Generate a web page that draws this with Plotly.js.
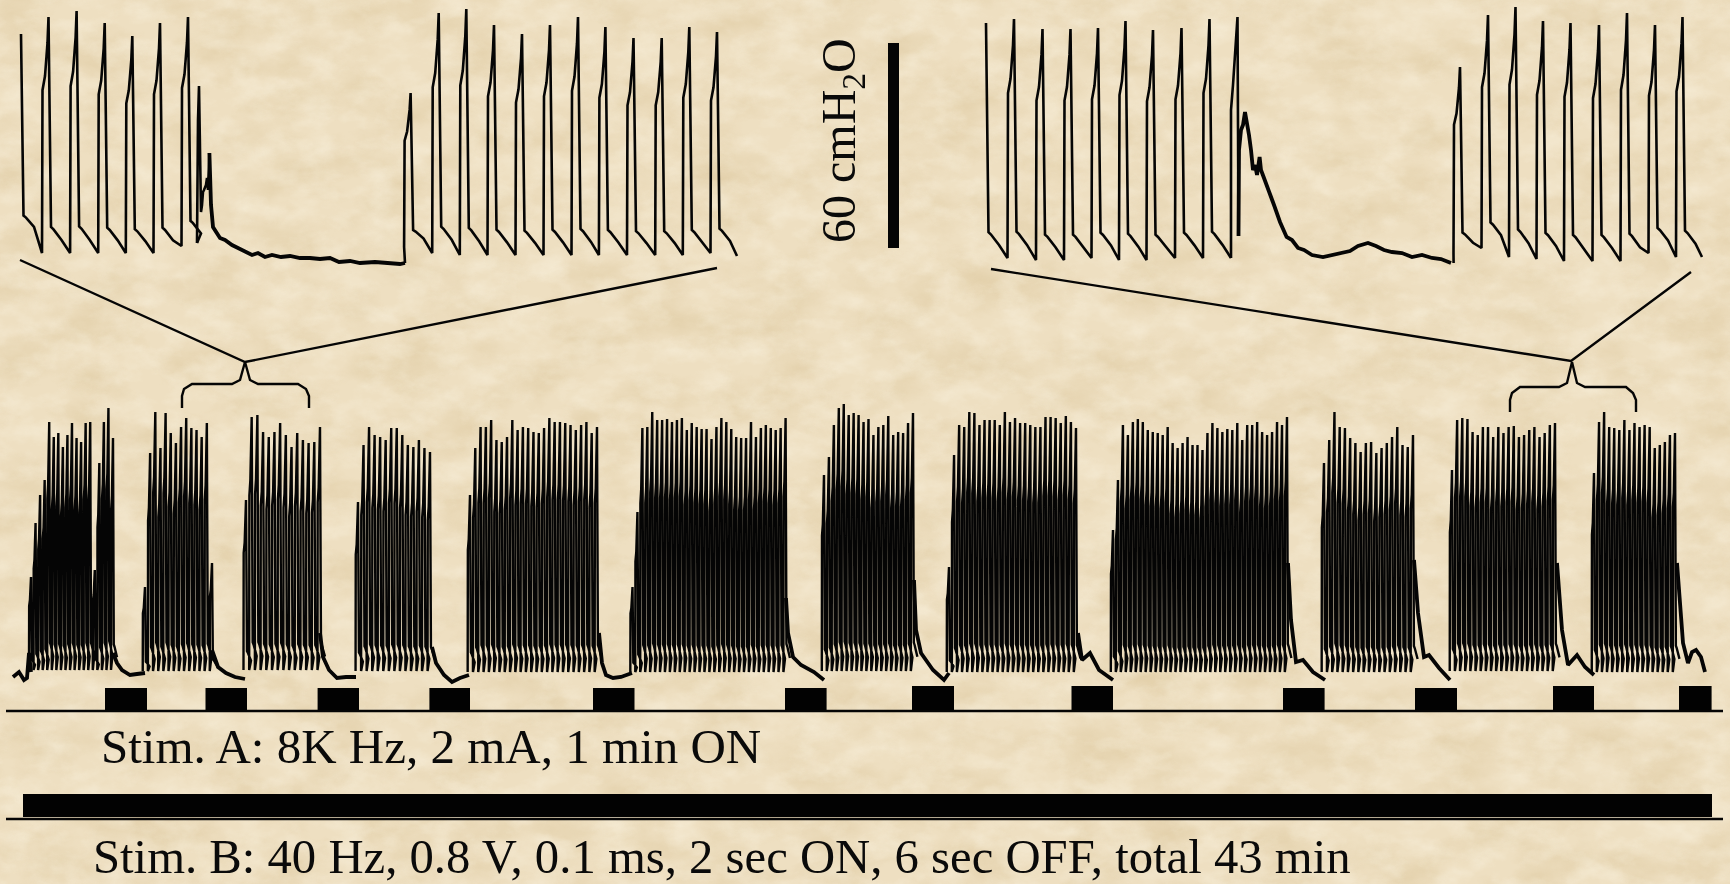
<!DOCTYPE html>
<html><head><meta charset="utf-8">
<script src="https://cdn.plot.ly/plotly-3.0.1.min.js"></script>
<style>
html,body{margin:0;padding:0;width:1730px;height:884px;overflow:hidden;background:#eedfc1}
#bg{position:absolute;left:0;top:0}
#chart{position:absolute;left:0;top:0;width:1730px;height:884px;filter:blur(0.45px)}
</style></head><body>
<svg id="bg" width="1730" height="884" xmlns="http://www.w3.org/2000/svg">
<filter id="blot" x="0" y="0" width="100%" height="100%"><feTurbulence type="fractalNoise" baseFrequency="0.016 0.026" numOctaves="6" seed="11"/><feColorMatrix type="matrix" values="0 0 0 0 0.62  0 0 0 0 0.46  0 0 0 0 0.22  1.7 0 0 0 -0.66"/></filter>
<filter id="lite" x="0" y="0" width="100%" height="100%"><feTurbulence type="fractalNoise" baseFrequency="0.03 0.05" numOctaves="5" seed="29"/><feColorMatrix type="matrix" values="0 0 0 0 1  0 0 0 0 0.97  0 0 0 0 0.86  1.7 0 0 0 -0.68"/></filter>
<rect width="1730" height="884" fill="#eedfc1"/>
<rect width="1730" height="884" filter="url(#blot)" opacity="0.36"/>
<rect width="1730" height="884" filter="url(#lite)" opacity="0.42"/>
</svg>
<div id="chart"></div>
<script>
// ---------- upper-left inset ----------
const insetLeftPeakX1 = [21,48.5,76.6,104.7,132.3,160,188];
const insetLeftPeakY1 = [34,17,11,23,36,23,17];
const insetLeftTrough1 = [238,253,253,253,253,253,246];
const insetLeftPauseX = [197,197.5,198,199,200,201,202,203,204,206,207,208,209.4,210.5,211,213,216,220,225,232,238,245,252,258,265,272,281,290,300,310,320,330,339,350,360,375,390,400,405];
const insetLeftPauseY = [243,180,120,86,150,212,205,192,190,185,178,190,153,185,205,227,232,238,240,245,248,252,255,253,257,255,257,256,258,258,259,258,262,261,263,262,263,264,263];
const insetLeftPeakX2 = [410.6,438.7,466.3,494,522,550,578,605.4,633.5,661.7,689.3,717];
const insetLeftPeakY2 = [93,13,9,25,34,25,17,27,38,38,27,32];
const insetLeftTrough2 = [247,253,255,255,255,255,255,255,255,255,255,253];
// ---------- upper-right inset ----------
const insetRightPeakX1 = [986,1014,1042.5,1070.5,1098,1125.5,1153,1181.5,1209.5];
const insetRightPeakY1 = [23,19,29,29,28,21,30,28,19];
const insetRightTrough1 = [258,258,260,260,258,260,260,258,258];
const insetRightPauseX = [1231,1231,1233,1237.5,1238.5,1239,1241,1243,1245,1247,1249,1251,1253,1255,1257,1259.6,1261,1264,1268,1274,1280,1286.6,1292,1298,1304,1312,1323,1332,1342,1350,1358,1368,1376,1384,1392,1402,1412,1422,1432,1441,1451];
const insetRightPauseY = [258,110,85,17,236,150,130,125,112,122,135,150,170,165,175,157,170,178,190,205,222,237,240,248,250,255,257,255,253,251,246,243,246,250,252,253,257,255,258,259,263];
const insetRightPeakX2 = [1460,1488,1515.5,1543,1570.5,1599,1627,1655,1682.5];
const insetRightPeakY2 = [67,15,7,21,23,25,13,25,17];
const insetRightTrough2 = [253,248,257,259,261,261,261,253,257];
// ---------- main recording: spike tops per burst ----------
const burstStart = [31,145,246,358,470,632.5,824,949,1113,1324,1452,1594];
const burstEnd   = [113,212,320,430,597,785.6,913,1076,1287,1413,1555,1675];
const burstTrough = [670,671,670,671,672,672,671,672,672,672,671,672];
const burst01 = [577,523,495,480,422,437,433,447,435,423,438,442,423,422,570,463,422,408,438];
const burst02 = [587,453,412,448,413,433,443,427,418,428,430,437,423,563];
const burst03 = [500,417,415,432,437,432,423,435,447,433,440,443,442,427];
const burst04 = [502,445,427,435,437,440,428,428,435,445,447,440,448,452];
const burst05 = [495,448,427,427,420,440,442,437,420,430,427,428,432,433,428,418,422,422,423,425,430,425,422,433,427];
const burst06 = [587,512,428,427,412,420,420,419,422,420,418,430,423,427,429,429,439,427,418,422,429,437,438,438,422,437,428,425,428,430,428,418];
const burst07 = [475,457,425,408,404,415,413,415,422,419,435,427,425,416,435,432,433,423,413];
const burst08 = [567,455,425,427,412,413,425,420,420,420,425,412,422,418,423,423,425,427,427,417,417,418,423,416,422,428];
const burst09 = [530,480,425,435,422,419,422,430,432,433,435,427,443,448,443,437,445,445,450,433,423,428,432,429,430,423,440,425,425,422,432,435,432,422,425,417];
const burst10 = [463,440,412,427,428,438,443,452,443,442,453,448,443,437,427,445,447,435];
const burst11 = [470,420,418,419,432,435,427,427,437,427,433,427,426,437,435,430,427,437,433,425,423];
const burst12 = [473,422,412,427,428,430,420,430,423,427,425,427,448,445,442,435,433];
// ---------- main recording: quiet intervals ----------
const quietX = [[13,19,24,27,29,31],[113,117,122,130,137,145],[212,218,226,235,245],[320,323,329,337,346,356],[432,436,444,452,460,469],[599,602,606,613,621,632],[786,788,793,801,814,824],[914,916,921,933,944,949],[1078,1082,1090,1099,1113],[1288,1291,1296,1303,1313,1325],[1414,1418,1424,1429,1439,1450],[1557,1562,1568,1577,1585,1594],[1677,1683,1688,1692,1696,1701,1705]];
const quietY = [[677,672,680,678,653,672],[653,663,670,675,674,673],[650,667,673,677,679],[633,657,670,678,677,677],[647,663,675,682,678,675],[633,663,675,678,677,673],[598,633,657,665,672,680],[580,630,653,670,680,673],[633,660,653,670,680],[563,620,662,660,672,680],[560,613,657,655,668,680],[563,630,665,655,667,675],[563,643,663,652,650,657,672]];
// ---------- stimulus bars ----------
const stimAStart = [105,205.5,317.6,429.4,593,785,912,1071.5,1283,1415,1553,1679];
const stimAEnd   = [147,247,359,470,634.5,826.6,954,1113,1324.6,1457,1594,1711.6];
const stimATop   = [688,688,688,688,688,688,686,686,688,688,686,686];
const stimALevel = 711;
const stimBStart = [23], stimBEnd = [1712], stimBTop = [794], stimBLevel = 817;
// ---------- connector lines, scale, labels ----------
const linkLeftX = [20,245,717],  linkLeftY = [260,362,268];
const linkRightX = [991,1571,1691], linkRightY = [269,361,272];
const braceLeftX = [182,182,184,192,232,240,245,250,258,298,306,309,309];
const braceLeftY = [408,396,389,384,384,380,362,380,384,384,389,396,408];
const braceRightX = [1510,1510,1512,1520,1559,1567,1572,1577,1585,1626,1633,1636,1636];
const braceRightY = [412,400,393,387,387,383,362,383,387,387,393,400,412];
const baseAX = [6,1723], baseAY = [711,711];
const baseBX = [6,1723], baseBY = [819,819];
const scaleX = [893.5,893.5], scaleY = [43,248];
const labelScale = '60 cmH<sub>2</sub>O';
const labelA = 'Stim. A: 8K Hz, 2 mA, 1 min ON';
const labelB = 'Stim. B: 40 Hz, 0.8 V, 0.1 ms, 2 sec ON, 6 sec OFF, total 43 min';

// shape of one breath, as drawn in the inset: offset from peak and fraction of spike height
const breathDX = [-6.5,-6,-3.5,-1,0,1,2.5,5,13];
const breathFrac = [0,.69,.75,.89,1,.65,.11,.10,.055];

function breaths(px,py,tr,scale,skipRise,endX,endY){
  const x=[],y=[];
  px.forEach((p,i)=>{
    breathDX.forEach((d,k)=>{
      if(i===0&&skipRise&&k<4) return;
      x.push(p+d*scale);
      y.push(tr[i]-(tr[i]-py[i])*breathFrac[k]);
    });
  });
  if(endX!==undefined){x.push(endX);y.push(endY);}
  return {x,y};
}
const line=(x,y,w)=>({type:'scatter',mode:'lines',x,y,line:{color:'#050505',width:w},hoverinfo:'skip',showlegend:false});
const traces=[];
// insets
let a=breaths(insetLeftPeakX1,insetLeftPeakY1,insetLeftTrough1,1,true,197,243);
traces.push(line(a.x,a.y,2.6));
traces.push(line(insetLeftPauseX.slice(0,13),insetLeftPauseY.slice(0,13),2.6));
traces.push(line(insetLeftPauseX.slice(12),insetLeftPauseY.slice(12),3.8));
a=breaths(insetLeftPeakX2,insetLeftPeakY2,insetLeftTrough2,1,false,737,256);
traces.push(line([405].concat(a.x),[263].concat(a.y),2.6));
a=breaths(insetRightPeakX1,insetRightPeakY1,insetRightTrough1,1,true,1231,258);
traces.push(line(a.x,a.y,2.6));
traces.push(line(insetRightPauseX.slice(0,5),insetRightPauseY.slice(0,5),2.6));
traces.push(line(insetRightPauseX.slice(4),insetRightPauseY.slice(4),3.8));
a=breaths(insetRightPeakX2,insetRightPeakY2,insetRightTrough2,1,false,1702,257);
traces.push(line([1453.6].concat(a.x),[263].concat(a.y),2.6));
// main recording
const bursts=[burst01,burst02,burst03,burst04,burst05,burst06,burst07,burst08,burst09,burst10,burst11,burst12];
bursts.forEach((tops,b)=>{
  const step=(burstEnd[b]-burstStart[b])/(tops.length-1);
  const px=tops.map((_,i)=>burstStart[b]+i*step);
  const tr=tops.map(()=>burstTrough[b]);
  const r=breaths(px,tops,tr,step/28*1.9,false);
  traces.push(line(r.x,r.y,2.4));
});
quietX.forEach((qx,i)=>traces.push(line(qx,quietY[i],3.8)));
// links, braces, baselines, scale
traces.push(line(linkLeftX,linkLeftY,2.4));
traces.push(line(linkRightX,linkRightY,2.4));
traces.push(line(braceLeftX,braceLeftY,2.4));
traces.push(line(braceRightX,braceRightY,2.4));
traces.push(line(baseAX,baseAY,2.5));
traces.push(line(baseBX,baseBY,2.5));
traces.push(line(scaleX,scaleY,11));
// stimulus bars
const starts=stimAStart.concat(stimBStart), ends=stimAEnd.concat(stimBEnd);
const tops=stimATop.concat(stimBTop), bases=stimATop.map(()=>stimALevel).concat([stimBLevel]);
traces.push({type:'bar',x:starts.map((s,i)=>(s+ends[i])/2),width:starts.map((s,i)=>ends[i]-s),
  base:bases,y:tops.map((t,i)=>t-bases[i]),marker:{color:'#020202',line:{width:0}},hoverinfo:'skip',showlegend:false});

const serif='"Liberation Serif","Times New Roman",serif';
const layout={
  width:1730,height:884,margin:{l:0,r:0,t:0,b:0},
  paper_bgcolor:'rgba(0,0,0,0)',plot_bgcolor:'rgba(0,0,0,0)',
  showlegend:false,barmode:'overlay',
  xaxis:{range:[0,1730],visible:false,fixedrange:true},
  yaxis:{range:[884,0],visible:false,fixedrange:true},
  annotations:[
    {text:labelScale,x:842,y:141,xref:'x',yref:'y',textangle:-90,showarrow:false,font:{family:serif,size:48,color:'#0a0a0a'}},
    {text:labelA,x:99,y:746,xref:'x',yref:'y',xanchor:'left',yanchor:'middle',showarrow:false,font:{family:serif,size:49,color:'#0a0a0a'}},
    {text:labelB,x:91,y:857,xref:'x',yref:'y',xanchor:'left',yanchor:'middle',showarrow:false,font:{family:serif,size:48.7,color:'#0a0a0a'}}
  ]
};
Plotly.newPlot('chart',traces,layout,{displayModeBar:false,staticPlot:true});
</script>
</body></html>
